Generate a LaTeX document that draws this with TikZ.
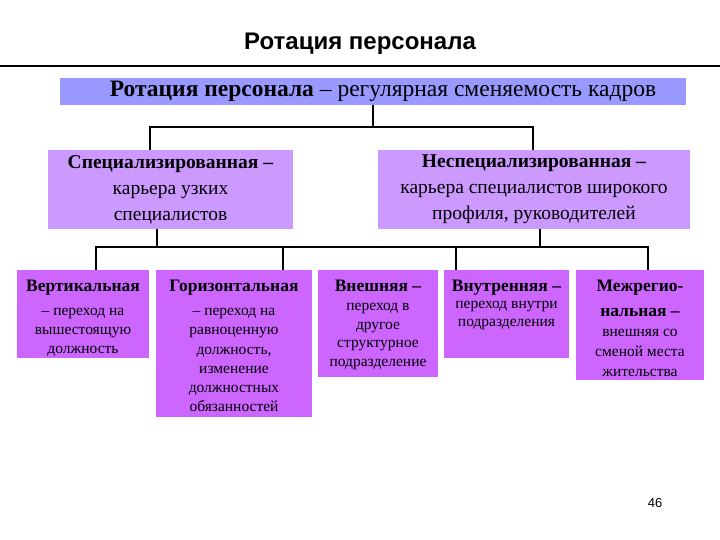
\documentclass[tikz,border=0pt]{standalone}
\usepackage{fontspec}
\setmainfont{Liberation Serif}
\newfontfamily\sansf{Liberation Sans}
\definecolor{barc}{HTML}{9999FF}
\definecolor{midc}{HTML}{CC99FF}
\definecolor{lowc}{HTML}{CC66FF}
\newcommand\boxhead[1]{{\fontsize{17.5}{20}\selectfont\bfseries #1}}
\newcommand\lowtext[3]{\begin{minipage}[c][#1][t]{#2}\centering\rule{0pt}{21pt}#3\end{minipage}}
\begin{document}
\begin{tikzpicture}[x=1pt,y=-1pt,
  every node/.style={inner sep=0pt, align=center, text=black},
  titlestyle/.style={font=\sansf\bfseries\fontsize{24}{28}\selectfont},
  pagenum/.style={font=\sansf\fontsize{13}{15}\selectfont},
  topbar/.style={fill=barc, minimum width=626pt, minimum height=27pt, font=\fontsize{23.5}{26}\selectfont},
  midbox/.style={fill=midc, minimum height=79pt, font=\fontsize{19.5}{26}\selectfont},
  lowbox/.style={fill=lowc, font=\fontsize{15.5}{19}\selectfont},
  conn/.style={line width=1.1pt, draw=black},
  rule/.style={line width=1.2pt, draw=black}]
\useasboundingbox (0,0) rectangle (720,540);
\fill[white] (0,0) rectangle (720,540);

\node[titlestyle] (title) at (360,44) {Ротация персонала};
\coordinate (ruleL) at (0,66);
\coordinate (ruleR) at (720,66);
\draw[rule] (ruleL) -- (ruleR);

\node[topbar] (top) at (373,91.5) {\hspace*{20pt}\textbf{Ротация персонала} – регулярная сменяемость кадров};

\node[midbox, minimum width=245pt] (spec) at (170.5,189.5)
  {\textbf{Специализированная –}\\карьера узких\\специалистов};
\node[midbox, minimum width=312pt] (nonspec) at (534,189.5)
  {\textbf{Неспециализированная –}\\карьера специалистов широкого\\профиля, руководителей};

\node[lowbox] (vert) at (83,314)
  {\lowtext{88pt}{132pt}{\boxhead{Вертикальная}\\[5pt]– переход на\\вышестоящую\\должность}};
\node[lowbox, font=\fontsize{15.5}{19.2}\selectfont] (horiz) at (234,343.5)
  {\lowtext{147pt}{156pt}{\boxhead{Горизонтальная}\\[5.5pt]– переход на\\равноценную\\должность,\\изменение\\должностных\\обязанностей}};
\node[lowbox, font=\fontsize{15.5}{18.5}\selectfont] (ext) at (378,323.5)
  {\lowtext{107pt}{120pt}{\boxhead{Внешняя –}\\[1pt]переход в\\другое\\структурное\\подразделение}};
\node[lowbox, font=\fontsize{15.5}{18}\selectfont] (int) at (506.5,314)
  {\lowtext{88pt}{125pt}{\boxhead{Внутренняя –}\\[-0.5pt]переход внутри\\подразделения}};
\node[lowbox, font=\fontsize{15.5}{20}\selectfont] (mezh) at (640,325)
  {\lowtext{110pt}{128pt}{\boxhead{Межрегио-}\\[5pt]\boxhead{нальная –}\\[0pt]внешняя со\\сменой места\\жительства}};

\node[pagenum] (pg) at (655,503) {46};

% connectors level 1
\coordinate (tdrop) at (373,127);
\coordinate (jA) at (150,127);
\coordinate (jB) at (533,127);
\draw[conn] (top.south -| tdrop) -- (tdrop);
\draw[conn] (jA |- spec.north) -- (jA) -- (jB) -- (jB |- nonspec.north);

% connectors level 2
\coordinate (sdrop) at (157,247);
\coordinate (ndrop) at (540,247);
\coordinate (b1) at (96,247);
\coordinate (b2) at (283,247);
\coordinate (b3) at (456,247);
\coordinate (b4) at (648,247);
\draw[conn] (spec.south -| sdrop) -- (sdrop);
\draw[conn] (nonspec.south -| ndrop) -- (ndrop);
\draw[conn] (b1 |- vert.north) -- (b1) -- (b4) -- (b4 |- mezh.north);
\draw[conn] (b2) -- (b2 |- horiz.north);
\draw[conn] (b3) -- (b3 |- int.north);
\end{tikzpicture}
\end{document}
